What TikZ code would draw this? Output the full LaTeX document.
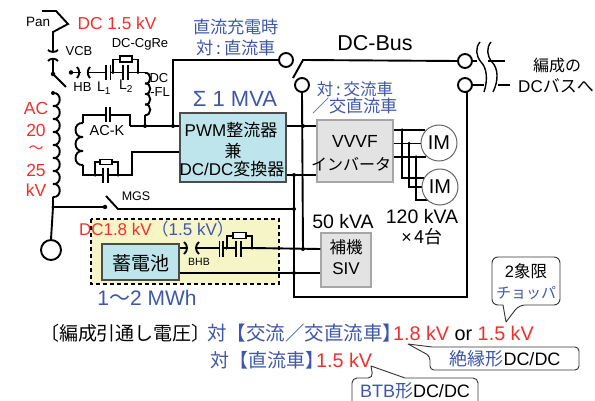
\documentclass[tikz,border=0pt]{standalone}
\usepackage{fontspec}
\setmainfont{Liberation Sans}
\newfontfamily\jp{Noto Sans CJK JP}
\newfontfamily\ls{Liberation Sans}
\usetikzlibrary{calc}
\definecolor{myblue}{HTML}{3F57A8}
\definecolor{myred}{HTML}{F0302C}
\definecolor{boxblue}{HTML}{BFE5EC}
\definecolor{boxgray}{HTML}{E3E3E3}
\definecolor{boxyel}{HTML}{F5F5C8}
\newcommand{\fs}[1]{\fontsize{#1}{#1}\selectfont}
\newcommand{\subn}[1]{{\fs{10}\raisebox{-3.5pt}{#1}}}
\newcommand{\coilv}[5]{% x y0 n pitch side
  \foreach \ci in {1,...,#3}{
    \pgfmathsetmacro{\ya}{#2+(\ci-1)*#4}
    \pgfmathsetmacro{\yb}{#2+\ci*#4}
    \pgfmathsetmacro{\xc}{#1+#5}
    \draw[wire] (#1,\ya) .. controls (\xc,\ya-1) and (\xc,\yb+1) .. (#1,\yb);
  }}
\tikzset{
  wire/.style={line width=1.9pt,black,line join=miter},
  jdot/.style={circle,fill=black,inner sep=0pt,minimum size=4.5pt},
  ring/.style={circle,draw=black,line width=1.9pt,fill=white,inner sep=0pt,minimum size=14pt},
  lbl/.style={inner sep=0pt,outer sep=0pt},
  unit/.style={draw=#1,line width=1.1pt,inner sep=0pt},
  res/.style={draw=black,line width=1.1pt,fill=white,inner sep=0pt},
  imc/.style={circle,draw=gray!80!black,line width=1pt,fill=white,inner sep=0pt,minimum size=36pt},
  call/.style={draw=black!80,line width=.9pt,fill=white,line join=round},
}
\begin{document}
\begin{tikzpicture}[x=1pt,y=-1pt]
\useasboundingbox (0,0) rectangle (595,401);
% yellow area
\draw[fill=boxyel,draw=black,line width=1.3pt,dash pattern=on 4pt off 3pt] (91,219) rectangle (279,284);
% named points
\coordinate (vcbt) at (53,52);
\coordinate (vcbb) at (53,59);
\coordinate (vcbd) at (53,74);
\coordinate (hbd) at (71,72.5);
\coordinate (l2a) at (113,72.5);
\coordinate (l2b) at (138,72.5);
\coordinate (fl) at (145,72.5);
\coordinate (flb) at (145,115);
\coordinate (j1) at (145,126);
\coordinate (j2) at (173,126);
\coordinate (j3) at (303,126);
\coordinate (j4) at (294,175);
\coordinate (j5) at (294,209);
\coordinate (j6) at (303,249);
\coordinate (j7) at (294,273);
\coordinate (mgsd) at (105,207);
\coordinate (mgsb) at (118,209);
\coordinate (tr) at (53,207);
% boxes
\node[unit=gray!60!black,fill=boxblue,minimum width=106pt,minimum height=69pt] (pwm) at (233,147.5) {};
\node[unit=gray!70,fill=boxgray,minimum width=76pt,minimum height=62pt] (vvvf) at (355,151) {};
\node[unit=gray!70,fill=boxgray,minimum width=50pt,minimum height=54pt] (siv) at (346,260) {};
\node[unit=gray!60!black,fill=boxblue,minimum width=77pt,minimum height=36pt] (bat) at (140.5,262) {};
\node[ring] (r1) at (286,60) {};
\node[ring] (r2) at (302,85) {};
\node[ring] (r3) at (465,61) {};
\node[ring] (r4) at (465,85) {};
\node[circle,draw=black,line width=1.9pt,inner sep=0pt,minimum size=20pt] (gnd) at (51,250) {};
% pantograph and VCB
\draw[wire] (42,11) -- (56,11) -- (68,24) -- (53,32) -- (vcbt);
\draw[wire] (48,50) .. controls (50,52.5) and (56,52.5) .. (58,50);
\draw[wire] (48,61) .. controls (50,58) and (56,58) .. (58,61);
\draw[wire] (vcbb) -- (vcbd) -- (66,87);
\node[jdot] at (vcbd) {};
% main transformer
\node[jdot,minimum size=4pt] at (53,93) {};
\coilv{53}{93}{8}{13}{9}
\draw[wire] (53,197) -- (tr) -- (gnd.north);
\draw[wire,line width=1.5pt] (tr) -- (mgsd);
\node[jdot] at (mgsd) {};
\draw[wire] (106,196) -- (mgsb) -- (j5);
\node[jdot,minimum size=3.5pt] at (tr) {};
% HB
\draw[wire] (hbd) -- (81,72.5);
\node[jdot] at (hbd) {};
\draw[wire] (77,67) .. controls (80,70) and (80,75) .. (77,78);
\draw[wire] (90,67) .. controls (87,70) and (87,75) .. (90,78);
\draw[wire] (87,72.5) -- (106,72.5);
\draw[wire] (106,65) -- (106,80);
\draw[wire] (110.5,65) -- (110.5,80);
\draw[wire] (110.5,72.5) -- (123,72.5);
\draw[wire] (123,65) -- (123,80);
\draw[wire] (128,65) -- (128,80);
\draw[wire] (128,72.5) -- (fl);
\draw[wire] (l2a) -- (113,59.5) -- (138,59.5) -- (l2b);
\node[res,minimum width=12pt,minimum height=6pt] (cgre) at (126,59) {};
\node[jdot,minimum size=3.5pt] at (l2a) {};
\node[jdot,minimum size=3.5pt] at (l2b) {};
% DC filter reactor
\coilv{145}{73}{4}{10.5}{7}
\draw[wire] (flb) -- (j1);
\node[jdot,minimum size=4pt] at (j1) {};
% AC-K
\draw[wire] (130,126) -- (130,115) -- (110,115);
\draw[wire] (110,107) -- (110,122);
\draw[wire] (106,107) -- (106,122);
\draw[wire] (106,115) -- (83,115) -- (83,123);
\coilv{83}{123}{3}{14}{-10}
\draw[wire] (83,165) -- (83,175) -- (103,175);
\draw[wire] (95,175) -- (95,162) -- (118,162) -- (118,175) -- (108,175);
\draw[wire] (103,168) -- (103,183);
\draw[wire] (108,168) -- (108,183);
\node[res,minimum width=12pt,minimum height=5.5pt] (acr) at (106,162) {};
\node[jdot,minimum size=3.5pt] at (95,175) {};
\node[jdot,minimum size=3.5pt] at (118,175) {};
\draw[wire] (118,175) -- (132,175) -- (132,152) -- (pwm.west |- 0,152);
% DC side wires
\draw[wire] (130,126) -- (pwm.west |- j1);
\draw[wire] (j2) -- (173,60) -- (r1.west);
\node[jdot,minimum size=4pt] at (j2) {};
\draw[wire] (293,78) -- (303,60) -- (r3.west);
\draw[wire] (r2.south) -- (j6);
\draw[wire] (pwm.east |- j3) -- (vvvf.west |- j3);
\node[jdot,minimum size=4pt] at (j3) {};
\draw[wire] (pwm.east |- j4) -- (vvvf.west |- j4);
\node[jdot,minimum size=4pt] at (j4) {};
\draw[wire] (j4) -- (294,297) -- (467,297) -- (467,92);
\node[jdot,minimum size=4pt] at (j5) {};
\node[jdot,minimum size=4pt] at (j6) {};
\node[jdot,minimum size=4pt] at (j7) {};
% coupler
\draw[wire] (r3.east) -- (477,61);
\draw[wire] (488,61) -- (505,61);
\draw[wire] (r4.east) -- (484,85);
\draw[wire] (498,85) -- (510,85);
\draw[line width=1.4pt] (480,42) .. controls (475,48) and (476,56) .. (481,62) .. controls (487,68) and (488,80) .. (484,92);
\draw[line width=1.4pt] (491,42) .. controls (486,48) and (487,56) .. (492,62) .. controls (498,68) and (499,80) .. (493,92);
% motors
\draw[wire] (vvvf.east |- 0,130) -- (425,130);
\draw[wire] (vvvf.east |- 0,143.5) -- (425,143.5);
\draw[wire] (vvvf.east |- 0,157) -- (426,157);
\draw[wire] (402,130) -- (402,178) -- (424,178);
\draw[wire] (409,143.5) -- (409,187) -- (425,187);
\draw[wire] (416,157) -- (416,200) -- (429,200);
\node[jdot,minimum size=3.5pt] at (402,130) {};
\node[jdot,minimum size=3.5pt] at (409,143.5) {};
\node[jdot,minimum size=3.5pt] at (416,157) {};
\node[imc] (im1) at (439,143) {};
\node[imc] (im2) at (440,187) {};
% battery wires
\draw[wire] (bat.east |- 0,248) -- (186,248);
\draw[wire] (184,242) .. controls (188,245) and (188,251) .. (184,254);
\draw[wire] (199,242) .. controls (195,245) and (195,251) .. (199,254);
\draw[wire] (196,248) -- (219,248);
\draw[wire] (219.5,241) -- (219.5,257);
\draw[wire] (223,241) -- (223,257);
\draw[wire] (223,248) -- (236,248);
\draw[wire] (236,241) -- (236,257);
\draw[wire] (241,241) -- (241,257);
\draw[wire] (241,248) -- (252,248);
\draw[wire] (226.7,248) -- (226.7,236) -- (252,236) -- (252,248);
\draw[wire] (252,248) -- (siv.west |- j6);
\node[res,minimum width=13pt,minimum height=5.5pt] (bhr) at (239.5,235.5) {};
\node[jdot,minimum size=3.5pt] at (226.7,248) {};
\node[jdot,minimum size=3.5pt] at (252,248) {};
\draw[wire] (bat.east |- j7) -- (siv.west |- j7);
% labels
\node[lbl,anchor=west] (tPan) at (26,22) {\fs{13.5}Pan};
\node[lbl] (t15) at (117,23) {\fs{17.3}\color{myred}DC 1.5 kV};
\node[lbl] (tVCB) at (79,51) {\fs{13}VCB};
\node[lbl] (tCg) at (140,44) {\fs{13}DC-CgRe};
\node[lbl] (tHB) at (82.5,87) {\fs{13}HB};
\node[lbl,anchor=west] (tL1) at (97,88) {\fs{14}L\subn{1}};
\node[lbl,anchor=west] (tL2) at (119,86) {\fs{14}L\subn{2}};
\node[lbl] (tDC) at (159,78) {\fs{13}DC};
\node[lbl] (tFL) at (160,92) {\fs{13}-FL};
\node[lbl] (tAC) at (36,108) {\fs{17.5}\color{myred}AC};
\node[lbl] (t20) at (36,130) {\fs{17.5}\color{myred}20};
\node[lbl] (tTl) at (36,150) {\fs{15}\color{myred}\jp ～};
\node[lbl] (t25) at (36,170) {\fs{17.5}\color{myred}25};
\node[lbl] (tkV) at (36,190) {\fs{17.5}\color{myred}kV};
\node[lbl] (tACK) at (107,131) {\fs{14.5}AC-K};
\node[lbl] (tMGS) at (136,196) {\fs{12.5}MGS};
\node[lbl] (tS) at (235,99) {\fs{22}\color{myblue}Σ 1 MVA};
\node[lbl] (tP1) at (231,130) {\fs{17}PWM\jp 整流器};
\node[lbl] (tP2) at (233,151) {\fs{17}\jp 兼};
\node[lbl] (tP3) at (232,169) {\fs{17}DC/DC\jp 変換器};
\node[lbl] (tB1) at (236,27) {\fs{17.2}\color{myblue}\jp 直流充電時};
\node[lbl] (tB2) at (236,48) {\fs{17.2}\color{myblue}\jp 対\,:\,直流車};
\node[lbl] (tBus) at (375,43) {\fs{21.5}DC-Bus};
\node[lbl] (tB3) at (355,89) {\fs{16.5}\color{myblue}\jp 対\,:\,交流車};
\node[lbl] (tB4) at (355,106) {\fs{17.2}\color{myblue}\jp ／交直流車};
\node[lbl] (tV1) at (355,141) {\fs{17.5}VVVF};
\node[lbl] (tV2) at (351,164) {\fs{16}\jp インバータ};
\node[lbl] (tIM1) at (439,143) {\fs{20}IM};
\node[lbl] (tIM2) at (440,187) {\fs{20}IM};
\node[lbl] (t50) at (343,222) {\fs{19.5}50 kVA};
\node[lbl] (t120) at (422,217) {\fs{19.5}120 kVA};
\node[lbl] (tx4) at (422,237) {\fs{18}×\,\jp 4台};
\node[lbl] (tH) at (346,247) {\fs{16.5}\jp 補機};
\node[lbl] (tSIV) at (346,269) {\fs{17}SIV};
\node[lbl,anchor=west] (t18) at (79,229) {\fs{17}\color{myred}DC1.8 kV\color{myblue}\jp（\ls 1.5 kV\jp ）};
\node[lbl] (tBHB) at (199,262) {\fs{10.5}BHB};
\node[lbl] (tBat) at (140.5,263) {\fs{19}\jp 蓄電池};
\node[lbl] (tMW) at (147,298) {\fs{21}\color{myblue}1\jp ～\ls 2 MWh};
\node[lbl] (tO1) at (557,65) {\fs{16}\jp 編成の};
\node[lbl] (tO2) at (556,86) {\fs{17}DC\jp バスへ};
% callouts
\draw[call,rounded corners=6pt] (492,257) -- (560,257) -- (560,305) -- (519,305) [sharp corners] -- (506,322) -- (503,305) [rounded corners=6pt] -- (492,305) -- cycle;
\node[lbl] (tC1) at (526,271) {\fs{16.5}2\jp 象限};
\node[lbl] (tC2) at (526,293) {\fs{15}\color{myblue}\jp チョッパ};
\draw[call,rounded corners=4pt] (432,347) -- (579,347) -- (579,370) -- (430,370) -- (430,356) [sharp corners] -- (408,344) -- (432,347) -- cycle;
\node[lbl] (tC3) at (505,359) {\fs{18}\color{myblue}\jp 絶縁形\ls \color{black}DC/DC};
\draw[call,rounded corners=5pt] (352,412) -- (352,378) -- (373,378) [sharp corners] -- (371,366) -- (405,378) [rounded corners=5pt] -- (478,378) -- (478,412);
\node[lbl] (tC4) at (415,391) {\fs{18}\color{myblue}BTB\jp 形\ls \color{black}DC/DC};
% bottom text
\node[lbl,anchor=west] (tE) at (40,333) {\fs{19}\jp 〔編成引通し電圧〕};
\node[lbl,anchor=west] (tE1) at (207,333) {\fs{19.5}\color{myblue}\jp 対【交流／交直流車】};
\node[lbl,anchor=west] (tE2) at (393,333) {\fs{19.8}\color{myred}1.8 kV \color{black}or \color{myred}1.5 kV};
\node[lbl,anchor=west] (tE3) at (210,360) {\fs{19}\color{myblue}\jp 対【直流車】};
\node[lbl,anchor=west] (tE4) at (316,360) {\fs{19.8}\color{myred}1.5 kV};
\end{tikzpicture}
\end{document}
